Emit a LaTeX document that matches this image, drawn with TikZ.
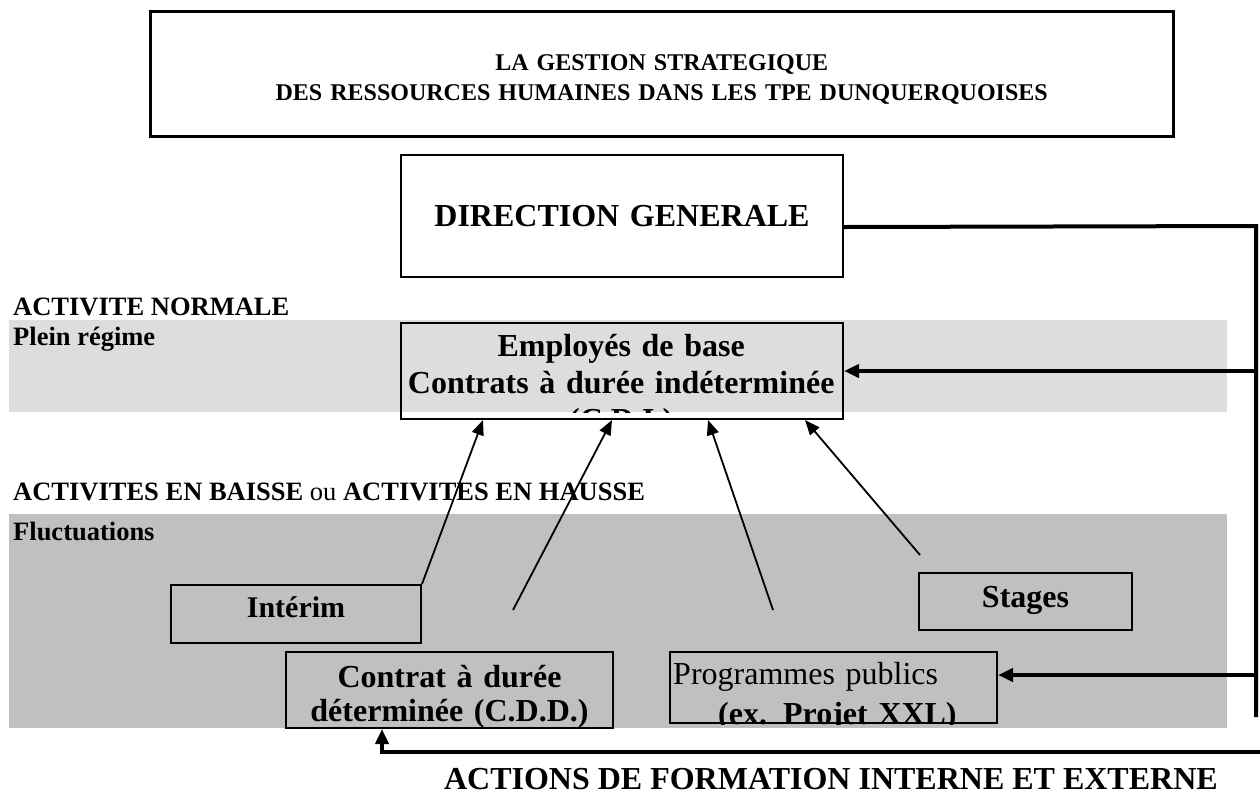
\documentclass[tikz,border=0pt]{standalone}
\usepackage{fontspec}
\setmainfont{Liberation Serif}
\usetikzlibrary{arrows.meta}
\definecolor{BandLight}{HTML}{DDDDDD}
\definecolor{BandDark}{HTML}{C0C0C0}
\tikzset{
  framebox/.style={draw, line width=2pt, rectangle, inner sep=0pt, align=center,
                   anchor=north west, font=\bfseries\fontsize{32}{36}\selectfont},
  boxtext/.style={inner sep=0pt, anchor=north west},
  bandlabel/.style={anchor=base west, inner sep=0pt,
                    font=\bfseries\fontsize{26.5}{30}\selectfont},
  arrowthin/.style={-{Triangle[length=15pt, width=12pt]}, line width=1.8pt},
  arrowthick/.style={-{Triangle[length=15pt, width=13pt]}, line width=4pt},
  railline/.style={line width=4pt}
}

\begin{document}
\begin{tikzpicture}[x=1pt, y=-1pt]
  \useasboundingbox (0,0) rectangle (1260,796);

  % bands
  \fill[BandLight] (9,320) rectangle (1227,412);
  \fill[BandDark] (9,514) rectangle (1227,728);

  \node[bandlabel] (normale) at (13,315) {ACTIVITE NORMALE};
  \node[bandlabel] (plein) at (13,345) {Plein régime};
  \node[bandlabel] (baisse) at (13,500) {ACTIVITES EN BAISSE \textmd{ou} ACTIVITES EN HAUSSE};
  \node[bandlabel] (fluct) at (13,540) {Fluctuations};

  % boxes
  \node[framebox, line width=2.5pt, text width=1023pt, text height=59pt, text depth=66pt,
        font=\bfseries\fontsize{24}{30}\selectfont] (title) at (149,10)
        {LA GESTION STRATEGIQUE\\DES RESSOURCES HUMAINES DANS LES TPE DUNQUERQUOISES};
  \node[framebox, text width=442pt, text height=71pt, text depth=51pt] (dg) at (400,154) {DIRECTION GENERALE};

  \node[framebox, minimum width=442pt, minimum height=96pt] (cdi) at (400,322) {};
  \coordinate (bandfoot) at (842,412);
  \begin{scope}
    \clip (cdi.north west) rectangle (bandfoot);
    \node[boxtext, align=center, text width=442pt, text height=34pt,
          font=\bfseries\fontsize{32}{37}\selectfont] (cditext) at (cdi.north west)
          {Employés de base\\Contrats à durée indéterminée\\(C.D.I.)};
  \end{scope}

  \node[framebox, text width=250pt, text height=32pt, text depth=26pt,
        font=\bfseries\fontsize{30}{34}\selectfont] (interim) at (170,584) {Intérim};
  \node[framebox, text width=327pt, text height=35pt, text depth=41pt,
        font=\bfseries\fontsize{32}{34}\selectfont] (cdd) at (285,651) {Contrat à durée\\déterminée (C.D.D.)};
  \node[framebox, text width=213pt, text height=34pt, text depth=23pt] (stages) at (918,572) {Stages};

  \node[framebox, minimum width=327pt, minimum height=71pt] (prog) at (669,651) {};
  \begin{scope}
    \clip (prog.north west) rectangle (prog.south east);
    \node[boxtext, align=left, text width=327pt, text height=33pt,
          font=\fontsize{32}{40}\selectfont] (progtext) at (prog.north west)
          {\hspace*{4pt}Programmes publics\\\hspace*{49pt}\textbf{(ex. Projet XXL)}};
  \end{scope}

  \node[anchor=base east, inner sep=0pt, font=\bfseries\fontsize{32}{36}\selectfont]
        (formation) at (1218,789) {ACTIONS DE FORMATION INTERNE ET EXTERNE};

  % arrows to the C.D.I. box
  \coordinate (fromcdd) at (513,610);
  \coordinate (fromprog) at (773,610);
  \coordinate (fromstages) at (920,555);
  \draw[arrowthin] (interim.north east) -- ([xshift=83pt]cdi.south west);
  \draw[arrowthin] (fromcdd) -- ([xshift=212pt]cdi.south west);
  \draw[arrowthin] (fromprog) -- ([xshift=308pt]cdi.south west);
  \draw[arrowthin] (fromstages) -- ([xshift=405pt]cdi.south west);

  % direction rail
  \coordinate (railtop) at (1256,226);
  \coordinate (railend) at (1256,717);
  \coordinate (progin) at ([yshift=12.5pt]prog.east);
  \draw[railline] ([yshift=-11pt]dg.east) -- (railtop) -- (railend);
  \draw[arrowthick] (railtop |- cdi.east) -- (cdi.east);
  \draw[arrowthick] (railtop |- progin) -- (progin);

  % formation
  \coordinate (formstart) at (1260,752);
  \draw[arrowthick] (formstart) -| ([xshift=97pt]cdd.south west);
\end{tikzpicture}
\end{document}
